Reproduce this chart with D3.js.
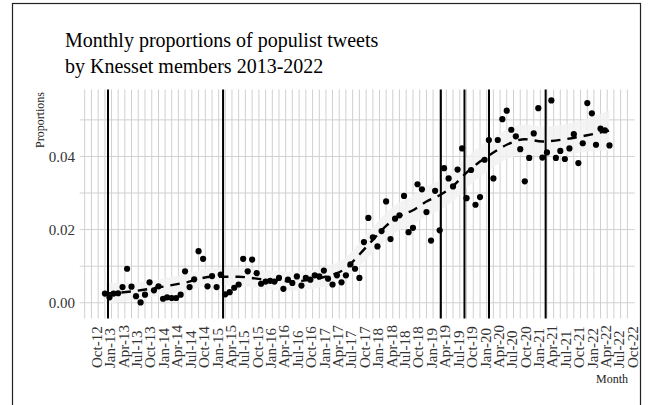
<!DOCTYPE html>
<html>
<head>
<meta charset="utf-8">
<script src="https://cdn.jsdelivr.net/npm/d3@7"></script>
<style>
  html, body { margin: 0; padding: 0; background: #fff; }
  svg { display: block; font-family: "Liberation Serif", "Times New Roman", serif; }
</style>
</head>
<body>
<svg id="chart" width="655" height="405"></svg>
<script>
// Monthly share of populist tweets, Jan 2013 .. Jun 2022
const firstMonth = "2013-01-01";
const proportions = [
  0.0025, 0.0015, 0.0025, 0.0026, 0.0043, 0.0093, 0.0044, 0.0018, 0.0001, 0.0022,
  0.0056, 0.0034, 0.0045, 0.0011, 0.0015, 0.0013, 0.0013, 0.0022, 0.0086, 0.0043,
  0.0064, 0.0141, 0.0120, 0.0045, 0.0073, 0.0043, 0.0077, 0.0023, 0.0029, 0.0041,
  0.0050, 0.0120, 0.0086, 0.0118, 0.0081, 0.0052, 0.0058, 0.0060, 0.0058, 0.0068,
  0.0038, 0.0063, 0.0054, 0.0072, 0.0047, 0.0068, 0.0063, 0.0075, 0.0072, 0.0088,
  0.0066, 0.0050, 0.0075, 0.0056, 0.0075, 0.0105, 0.0093, 0.0068, 0.0166, 0.0232,
  0.0179, 0.0154, 0.0196, 0.0277, 0.0174, 0.0230, 0.0239, 0.0292, 0.0193, 0.0205,
  0.0324, 0.0310, 0.0248, 0.0170, 0.0306, 0.0198, 0.0368, 0.0340, 0.0318, 0.0364,
  0.0422, 0.0286, 0.0363, 0.0268, 0.0289, 0.0391, 0.0445, 0.0340, 0.0445, 0.0502,
  0.0525, 0.0473, 0.0455, 0.0420, 0.0332, 0.0396, 0.0463, 0.0532, 0.0397, 0.0411,
  0.0553, 0.0396, 0.0415, 0.0393, 0.0422, 0.0461, 0.0382, 0.0436, 0.0546, 0.0518,
  0.0432, 0.0476, 0.0471, 0.0430
];

// Smoothed trend (months after Jan 2013) and its confidence half-width
const trendMonths = [0, 6, 12, 18, 24, 30, 36, 42, 48, 51, 54, 57, 60, 63, 66, 69, 72, 75, 78, 81, 84, 87, 90, 94, 98, 103, 108, 113];
const trendValues = [0.0025, 0.0031, 0.0042, 0.0055, 0.0071, 0.0071, 0.0063, 0.0059, 0.0067, 0.0077, 0.0094, 0.0132, 0.0172, 0.0210, 0.0237, 0.0253, 0.0277, 0.0294, 0.0319, 0.0356, 0.0386, 0.0411, 0.0432, 0.0447, 0.0441, 0.0447, 0.0458, 0.0471];
const trendBand   = [0.0030, 0.0024, 0.0022, 0.0023, 0.0024, 0.0025, 0.0026, 0.0026, 0.0026, 0.0028, 0.0030, 0.0033, 0.0035, 0.0037, 0.0038, 0.0039, 0.0040, 0.0041, 0.0042, 0.0042, 0.0042, 0.0041, 0.0040, 0.0040, 0.0040, 0.0041, 0.0045, 0.0055];

// Knesset election dates
const elections = ["2013-01-22", "2015-03-17", "2019-04-09", "2019-09-17", "2020-03-02", "2021-03-23"];

const yTicks = [0, 0.02, 0.04];
const yGrid = [0, 0.01, 0.02, 0.03, 0.04, 0.05];
const titleLines = ["Monthly proportions of populist tweets", "by Knesset members 2013-2022"];
const xTitle = "Month";
const yTitle = "Proportions";

const parse = d3.utcParse("%Y-%m-%d");
const start = parse(firstMonth);
const dates = proportions.map((_, i) => d3.utcMonth.offset(start, i));
const points = proportions.map((v, i) => ({ date: dates[i], value: v }));
const trend = trendMonths.map((m, i) => ({
  date: d3.utcMonth.offset(start, m), value: trendValues[i], band: trendBand[i]
}));

const panel = { left: 79.7, right: 634.7, top: 89.5, bottom: 318.5 };

// Date axis padded by 5% on both sides
const d0 = dates[0], d1 = dates[dates.length - 1];
const pad = (d1 - d0) * 0.05;
const x = d3.scaleUtc()
  .domain([new Date(+d0 - pad), new Date(+d1 + pad)])
  .range([panel.left, panel.right]);
const y = d3.scaleLinear()
  .domain([-0.0043, 0.0583])
  .range([panel.bottom, panel.top]);

const svg = d3.select("#chart");

// outer frame
svg.append("rect")
  .attr("x", 12.5).attr("y", 3.5)
  .attr("width", 628).attr("height", 420)
  .attr("fill", "none").attr("stroke", "#222").attr("stroke-width", 1.2);

// Quarterly breaks with minor lines halfway between them
const majors = d3.utcMonth.every(3).range(d3.utcYear.floor(x.domain()[0]), d3.utcYear.ceil(x.domain()[1]));
const inside = d => x(d) >= panel.left - 0.01 && x(d) <= panel.right + 0.01;
const minors = [];
for (let i = 0; i < majors.length - 1; i++) {
  minors.push(new Date((+majors[i] + +majors[i + 1]) / 2));
}
const vGrid = majors.concat(minors).filter(inside);

const grid = svg.append("g").attr("stroke", "#d0d0d0").attr("stroke-width", 1);
grid.selectAll("line.v").data(vGrid).join("line")
  .attr("class", "v")
  .attr("x1", d => x(d)).attr("x2", d => x(d))
  .attr("y1", panel.top).attr("y2", panel.bottom);
grid.selectAll("line.h").data(yGrid).join("line")
  .attr("class", "h")
  .attr("x1", panel.left).attr("x2", panel.right)
  .attr("y1", d => y(d)).attr("y2", d => y(d));

// confidence ribbon around the trend
const ribbon = d3.area()
  .x(d => x(d.date))
  .y0(d => y(d.value - d.band))
  .y1(d => y(d.value + d.band))
  .curve(d3.curveMonotoneX);
svg.append("path").datum(trend)
  .attr("d", ribbon)
  .attr("fill", "#f1f2f1").attr("fill-opacity", 0.85);

// election markers
svg.append("g").selectAll("line").data(elections.map(parse)).join("line")
  .attr("x1", d => x(d)).attr("x2", d => x(d))
  .attr("y1", panel.top).attr("y2", panel.bottom)
  .attr("stroke", "#000").attr("stroke-width", 2);

// monthly points
svg.append("g").selectAll("circle").data(points).join("circle")
  .attr("cx", d => x(d.date)).attr("cy", d => y(d.value))
  .attr("r", 3.1).attr("fill", "#000");

// dashed trend line
const line = d3.line().x(d => x(d.date)).y(d => y(d.value)).curve(d3.curveMonotoneX);
svg.append("path").datum(trend)
  .attr("d", line)
  .attr("fill", "none").attr("stroke", "#000")
  .attr("stroke-width", 2.4).attr("stroke-dasharray", "9.5,7");

// y tick labels
svg.append("g").selectAll("text").data(yTicks).join("text")
  .attr("x", 75).attr("y", d => y(d)).attr("dy", "0.35em")
  .attr("text-anchor", "end")
  .attr("font-size", 15).attr("fill", "#333")
  .text(d3.format(".2f"));

// x tick labels, rotated
const fmt = d3.utcFormat("%b-%y");
svg.append("g").selectAll("text").data(majors.filter(inside)).join("text")
  .attr("transform", d => `translate(${x(d)},368) rotate(-90)`)
  .attr("dy", "0.7em")
  .attr("text-anchor", "start")
  .attr("font-size", 15).attr("fill", "#333")
  .text(d => fmt(d));

// axis titles
svg.append("text")
  .attr("transform", `translate(44,92) rotate(-90)`)
  .attr("text-anchor", "end")
  .attr("font-size", 12).attr("fill", "#222")
  .text(yTitle);
svg.append("text")
  .attr("x", 628).attr("y", 383)
  .attr("text-anchor", "end")
  .attr("font-size", 12).attr("fill", "#222")
  .text(xTitle);

// title
svg.append("g").selectAll("text").data(titleLines).join("text")
  .attr("x", 65).attr("y", (d, i) => 47 + i * 26)
  .attr("font-size", 20).attr("fill", "#000")
  .text(d => d);
</script>
</body>
</html>
